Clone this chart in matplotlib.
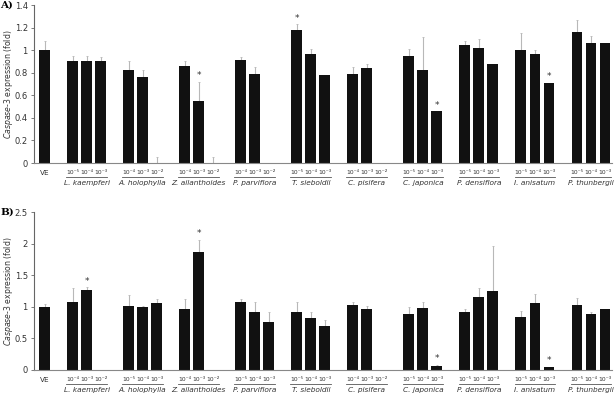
import matplotlib
matplotlib.use("Agg")
import matplotlib.pyplot as plt
import matplotlib.transforms as mtransforms
import numpy as np

species = ["L. kaempferi", "A. holophylla", "Z. ailanthoides", "P. parviflora",
           "T. sieboldii", "C. pisifera", "C. japonica", "P. densiflora",
           "I. anisatum", "P. thunbergii"]

# panel A: VE first, then 3 doses per species (nan = not measured)
vals_a = [1.00,
          0.90, 0.90, 0.90,
          0.82, 0.76, 0.0,
          0.86, 0.55, 0.0,
          0.91, 0.79, np.nan,
          1.18, 0.97, 0.78,
          0.79, 0.84, np.nan,
          0.95, 0.82, 0.46,
          1.05, 1.02, 0.88,
          1.00, 0.97, 0.71,
          1.16, 1.06, 1.06]
errs_a = [0.08,
          0.05, 0.05, 0.04,
          0.08, 0.06, 0.05,
          0.04, 0.17, 0.05,
          0.03, 0.06, 0.0,
          0.05, 0.04, 0.0,
          0.06, 0.04, 0.0,
          0.06, 0.30, 0.0,
          0.03, 0.08, 0.0,
          0.15, 0.03, 0.0,
          0.11, 0.07, 0.0]
stars_a = [8, 13, 21, 27]
doses_a = [[5, 4, 3], [4, 3, 2], [4, 3, 2], [4, 3, 2], [5, 4, 3],
           [4, 3, 2], [5, 4, 3], [5, 4, 3], [5, 4, 3], [5, 4, 3]]

# panel B
vals_b = [1.00,
          1.07, 1.26, np.nan,
          1.02, 1.00, 1.06,
          0.96, 1.86, np.nan,
          1.07, 0.92, 0.76,
          0.91, 0.82, 0.70,
          1.03, 0.97, np.nan,
          0.89, 0.98, 0.06,
          0.92, 1.16, 1.25,
          0.84, 1.06, 0.04,
          1.03, 0.88, 0.96]
errs_b = [0.05,
          0.23, 0.05, 0.0,
          0.16, 0.02, 0.06,
          0.16, 0.20, 0.0,
          0.06, 0.15, 0.16,
          0.16, 0.10, 0.09,
          0.04, 0.04, 0.0,
          0.11, 0.09, 0.02,
          0.05, 0.14, 0.71,
          0.09, 0.15, 0.01,
          0.11, 0.03, 0.01]
stars_b = [2, 8, 21, 27]
doses_b = [[4, 3, 2], [5, 4, 3], [4, 3, 2], [5, 4, 3], [5, 4, 3],
           [4, 3, 2], [5, 4, 3], [5, 4, 3], [5, 4, 3], [5, 4, 3]]

SUP = {2: "⁻²", 3: "⁻³", 4: "⁻⁴", 5: "⁻⁵"}


def positions():
    pos = [0]
    for g in range(len(species)):
        pos += [2 + 4 * g, 3 + 4 * g, 4 + 4 * g]
    return np.array(pos, dtype=float)


def draw_panel(ax, vals, errs, stars, doses, ymax, step, letter):
    x = positions()
    v = np.array(vals)
    e = np.array(errs)
    ok = ~np.isnan(v)
    ax.bar(x[ok], v[ok], width=0.78, color="#111111", zorder=2)
    ax.errorbar(x[ok], v[ok], yerr=[np.zeros(ok.sum()), e[ok]], fmt="none",
                ecolor="#b8b8b8", elinewidth=0.8, capsize=1.0, capthick=0.6, zorder=1)
    for i in stars:
        ax.text(x[i], v[i] + e[i] + ymax * 0.01, "*", ha="center", va="bottom",
                fontsize=6.5, color="#333333")

    ax.set_xlim(-0.75, 40.5)
    ax.set_ylim(0, ymax)
    ticks = np.arange(0, ymax + 1e-9, step)
    ax.set_yticks(ticks)
    ax.set_yticklabels([f"{t:g}" for t in ticks], fontsize=6, color="#333333")
    ax.set_xticks([])
    for s in ("top", "right"):
        ax.spines[s].set_visible(False)
    ax.spines["left"].set_color("#666666")
    ax.spines["bottom"].set_color("#888888")
    ax.spines["left"].set_linewidth(0.8)
    ax.spines["bottom"].set_linewidth(0.8)
    ax.tick_params(axis="y", length=2.5, width=0.6, color="#666666", pad=2)
    ax.set_ylabel(r"$\it{Caspase}$-$\it{3}$ expression (fold)", fontsize=5.6,
                  color="#333333")
    ax.yaxis.set_label_coords(-0.033, 0.5)

    tr = mtransforms.blended_transform_factory(ax.transData, ax.transAxes)
    ax.text(0, -0.045, "VE", transform=tr, ha="center", va="top", fontsize=5.2,
            color="#333333")
    for g, name in enumerate(species):
        gx = x[1 + 3 * g: 4 + 3 * g]
        for xi, d in zip(gx, doses[g]):
            ax.text(xi, -0.045, "10" + SUP[d], transform=tr, ha="center", va="top",
                    fontsize=4.3, color="#333333")
        ax.plot([gx[0] - 0.45, gx[-1] + 0.45], [-0.09, -0.09], transform=tr,
                color="#555555", lw=0.6, clip_on=False)
        ax.text(gx[1], -0.105, name, transform=tr, ha="center", va="top",
                fontsize=5.3, style="italic", color="#333333")
    ax.text(-0.058, 1.0, letter, transform=ax.transAxes, ha="left", va="center",
            fontsize=7.5, fontweight="bold", family="serif")


fig = plt.figure(figsize=(6.14, 4.04), dpi=100)
ax_a = fig.add_axes([0.0554, 0.5965, 0.9414, 0.391])
ax_b = fig.add_axes([0.0554, 0.0842, 0.9414, 0.391])
draw_panel(ax_a, vals_a, errs_a, stars_a, doses_a, 1.4, 0.2, "A)")
draw_panel(ax_b, vals_b, errs_b, stars_b, doses_b, 2.5, 0.5, "B)")
fig.savefig("out.png", dpi=100)
